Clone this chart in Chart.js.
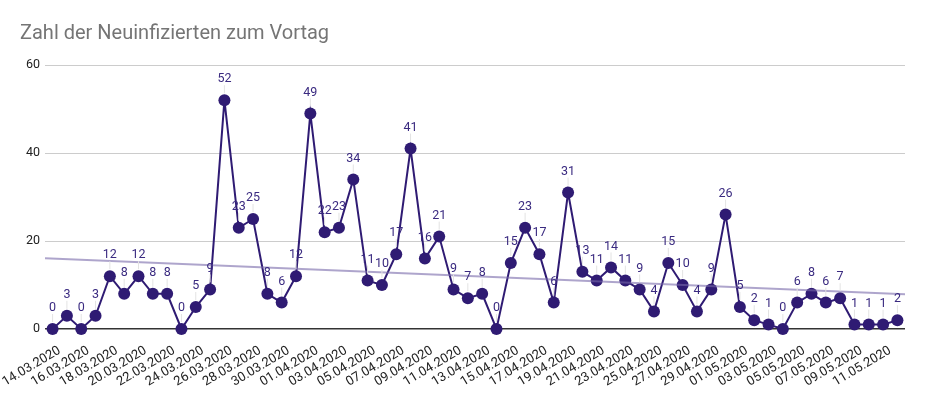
<!DOCTYPE html>
<html>
<head>
<meta charset="utf-8">
<script src="https://cdn.jsdelivr.net/npm/chart.js@4/dist/chart.umd.min.js"></script>
<style>
  html, body { margin: 0; padding: 0; background: #fff; }
  #wrap { width: 925px; height: 393px; }
</style>
</head>
<body>
<div id="wrap"><canvas id="chart" width="925" height="393"></canvas></div>
<script>
// one entry per day, 14.03.2020 - 12.05.2020
const days = [
    "14.03.2020", "15.03.2020", "16.03.2020", "17.03.2020", "18.03.2020", "19.03.2020",
    "20.03.2020", "21.03.2020", "22.03.2020", "23.03.2020", "24.03.2020", "25.03.2020",
    "26.03.2020", "27.03.2020", "28.03.2020", "29.03.2020", "30.03.2020", "31.03.2020",
    "01.04.2020", "02.04.2020", "03.04.2020", "04.04.2020", "05.04.2020", "06.04.2020",
    "07.04.2020", "08.04.2020", "09.04.2020", "10.04.2020", "11.04.2020", "12.04.2020",
    "13.04.2020", "14.04.2020", "15.04.2020", "16.04.2020", "17.04.2020", "18.04.2020",
    "19.04.2020", "20.04.2020", "21.04.2020", "22.04.2020", "23.04.2020", "24.04.2020",
    "25.04.2020", "26.04.2020", "27.04.2020", "28.04.2020", "29.04.2020", "30.04.2020",
    "01.05.2020", "02.05.2020", "03.05.2020", "04.05.2020", "05.05.2020", "06.05.2020",
    "07.05.2020", "08.05.2020", "09.05.2020", "10.05.2020", "11.05.2020", "12.05.2020"
];
const newCases = [
    0, 3, 0, 3, 12, 8, 12, 8, 8, 0,
    5, 9, 52, 23, 25, 8, 6, 12, 49, 22,
    23, 34, 11, 10, 17, 41, 16, 21, 9, 7,
    8, 0, 15, 23, 17, 6, 31, 13, 11, 14,
    11, 9, 4, 15, 10, 4, 9, 26, 5, 2,
    1, 0, 6, 8, 6, 7, 1, 1, 1, 2
];
const yTicks = [0, 20, 40, 60];

const lineColor = "#2f1b73";
const labelColor = "#3a2a80";

// linear trend (least squares) over the day index
function trend(values) {
    const n = values.length;
    let sx = 0, sy = 0, sxy = 0, sxx = 0;
    values.forEach((v, i) => { sx += i; sy += v; sxy += i * v; sxx += i * i; });
    const b = (n * sxy - sx * sy) / (n * sxx - sx * sx);
    const a = (sy - b * sx) / n;
    return (x) => a + b * x;
}

const xMin = -0.53, xMax = days.length - 1 + 0.53;
const fit = trend(newCases);

const pointLabels = {
    id: "pointLabels",
    afterDatasetsDraw(chart) {
        const ctx = chart.ctx;
        const meta = chart.getDatasetMeta(0);
        ctx.save();
        ctx.font = "12.5px Roboto";
        ctx.textAlign = "center";
        ctx.textBaseline = "middle";
        meta.data.forEach((pt, i) => {
            ctx.strokeStyle = "#e3e3e3";
            ctx.lineWidth = 1;
            ctx.beginPath();
            ctx.moveTo(pt.x, pt.y - 7);
            ctx.lineTo(pt.x, pt.y - 15);
            ctx.stroke();
            ctx.fillStyle = labelColor;
            ctx.fillText(String(newCases[i]), pt.x, pt.y - 21);
        });
        ctx.restore();
    }
};

Chart.defaults.font.family = "Roboto";

new Chart(document.getElementById("chart").getContext("2d"), {
    type: "line",
    data: {
        datasets: [{
            data: newCases.map((v, i) => ({ x: i, y: v })),
            borderColor: lineColor,
            borderWidth: 2,
            backgroundColor: lineColor,
            pointRadius: 6,
            pointBorderWidth: 0,
            tension: 0,
            clip: false,
            order: 2
        }, {
            data: [{ x: xMin, y: fit(xMin) }, { x: xMax, y: fit(xMax) }],
            borderColor: "rgba(120, 105, 170, 0.6)",
            borderWidth: 2,
            pointRadius: 0,
            order: 1
        }]
    },
    options: {
        responsive: false,
        animation: false,
        layout: { padding: { left: 20, right: 20, top: 0, bottom: 0 } },
        plugins: {
            legend: { display: false },
            tooltip: { enabled: false },
            title: {
                display: true,
                text: "Zahl der Neuinfizierten zum Vortag",
                align: "start",
                color: "#757575",
                font: { size: 20, weight: "normal" },
                padding: { top: 22, bottom: 19 }
            }
        },
        scales: {
            x: {
                type: "linear",
                min: xMin,
                max: xMax,
                grid: { display: false },
                border: { display: false },
                afterBuildTicks(scale) {
                    scale.ticks = days.map((d, i) => ({ value: i })).filter((t) => t.value % 2 === 0);
                },
                afterFit(scale) {
                    scale.height = 64;
                    scale.paddingLeft = 0;
                    scale.paddingRight = 0;
                },
                ticks: {
                    autoSkip: false,
                    minRotation: 31,
                    maxRotation: 31,
                    color: "#222",
                    font: { size: 13 },
                    padding: 6,
                    labelOffset: 7,
                    callback: (v) => days[v]
                }
            },
            y: {
                min: 0,
                max: 60,
                afterBuildTicks(scale) {
                    scale.ticks = yTicks.map((v) => ({ value: v }));
                },
                afterFit(scale) { scale.width = 25; },
                grid: {
                    drawTicks: false,
                    color: (c) => (c.tick && c.tick.value === 0 ? "#333" : "#cccccc"),
                    lineWidth: (c) => (c.tick && c.tick.value === 0 ? 1.5 : 1)
                },
                border: { display: false },
                ticks: { color: "#222", font: { size: 12.5 }, padding: 5 }
            }
        }
    },
    plugins: [pointLabels]
});
</script>
</body>
</html>
